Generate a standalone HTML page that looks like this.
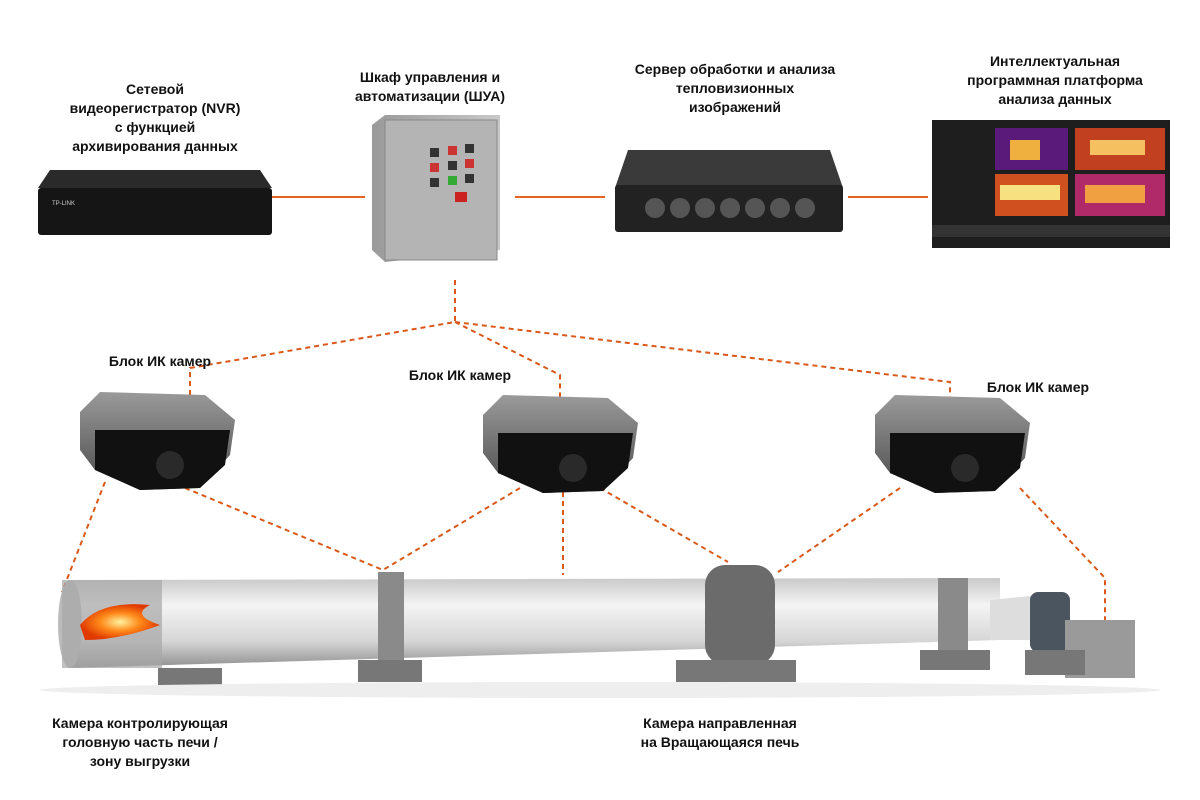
<!DOCTYPE html>
<html><head><meta charset="utf-8"><style>
html,body{margin:0;padding:0;background:#fff;}
body{width:1200px;height:800px;overflow:hidden;position:relative;font-family:"Liberation Sans","Noto Sans CJK SC",sans-serif;}
.t{position:absolute;text-align:center;font-size:14px;line-height:19px;color:#111;font-weight:bold;}
</style></head><body>
<svg width="1200" height="800" style="position:absolute;left:0;top:0">
<defs>
<linearGradient id="cyl" x1="0" y1="0" x2="0" y2="1">
<stop offset="0" stop-color="#c9c9c9"/><stop offset="0.3" stop-color="#f4f4f4"/><stop offset="0.7" stop-color="#d6d6d6"/><stop offset="1" stop-color="#8e8e8e"/></linearGradient>
<linearGradient id="cab" x1="0" y1="0" x2="1" y2="0">
<stop offset="0" stop-color="#9a9a9a"/><stop offset="1" stop-color="#c8c8c8"/></linearGradient>
<linearGradient id="cam" x1="0" y1="0" x2="0" y2="1">
<stop offset="0" stop-color="#9a9a9a"/><stop offset="1" stop-color="#4a4a4a"/></linearGradient>
<radialGradient id="fire"><stop offset="0" stop-color="#fff2a0"/><stop offset="0.5" stop-color="#ff8a1a"/><stop offset="1" stop-color="#e03a00"/></radialGradient>
</defs>
<!-- solid connectors -->
<g stroke="#e0631f" stroke-width="2">
<line x1="272" y1="197" x2="365" y2="197"/>
<line x1="515" y1="197" x2="605" y2="197"/>
<line x1="848" y1="197" x2="928" y2="197"/>
</g>
<!-- dashed connectors -->
<g stroke="#d9581a" stroke-width="2" stroke-dasharray="5,4" fill="none">
<polyline points="455,280 455,322 190,368 190,395"/>
<polyline points="455,322 560,375 560,400"/>
<polyline points="455,322 950,382 950,400"/>
<line x1="105" y1="482" x2="62" y2="592"/>
<line x1="185" y1="488" x2="383" y2="570"/>
<line x1="520" y1="488" x2="383" y2="570"/>
<line x1="563" y1="492" x2="563" y2="575"/>
<line x1="600" y1="488" x2="728" y2="562"/>
<line x1="900" y1="488" x2="778" y2="572"/>
<polyline points="1020,488 1105,578 1105,620"/>
</g>
<!-- NVR -->
<polygon points="50,170 260,170 272,188 38,188" fill="#2a2a2a"/>
<rect x="38" y="188" width="234" height="47" rx="3" fill="#151515"/>
<text x="52" y="205" font-size="6" fill="#ccc" font-family="Liberation Sans">TP-LINK</text>
<!-- cabinet -->
<polygon points="372,125 385,115 500,115 500,250 385,262 372,250" fill="url(#cab)"/>
<rect x="385" y="120" width="112" height="140" fill="#b4b4b4" stroke="#888"/>
<g fill="#333"><rect x="430" y="148" width="9" height="9"/><rect x="448" y="146" width="9" height="9" fill="#c33"/><rect x="465" y="144" width="9" height="9"/><rect x="430" y="163" width="9" height="9" fill="#c33"/><rect x="448" y="161" width="9" height="9"/><rect x="465" y="159" width="9" height="9" fill="#c33"/><rect x="430" y="178" width="9" height="9"/><rect x="448" y="176" width="9" height="9" fill="#3a3"/><rect x="465" y="174" width="9" height="9"/><rect x="455" y="192" width="12" height="10" fill="#c22"/></g>
<!-- server -->
<polygon points="628,150 830,150 843,188 615,188" fill="#3a3a3a"/>
<rect x="615" y="185" width="228" height="47" rx="3" fill="#222"/>
<g fill="#555"><circle cx="655" cy="208" r="10"/><circle cx="680" cy="208" r="10"/><circle cx="705" cy="208" r="10"/><circle cx="730" cy="208" r="10"/><circle cx="755" cy="208" r="10"/><circle cx="780" cy="208" r="10"/><circle cx="805" cy="208" r="10"/></g>
<!-- screen -->
<rect x="932" y="120" width="238" height="128" fill="#1e1e1e"/>
<rect x="995" y="128" width="73" height="42" fill="#5a1a7a"/><rect x="1075" y="128" width="90" height="42" fill="#c04020"/>
<rect x="995" y="174" width="73" height="42" fill="#d05020"/><rect x="1075" y="174" width="90" height="42" fill="#b02a6a"/>
<rect x="1010" y="140" width="30" height="20" fill="#f0b040"/><rect x="1090" y="140" width="55" height="15" fill="#f5c060"/><rect x="1000" y="185" width="60" height="15" fill="#f6e080"/><rect x="1085" y="185" width="60" height="18" fill="#f0a040"/>
<rect x="932" y="225" width="238" height="12" fill="#333"/>
<!-- cameras -->
<g id="c">
<polygon points="80,412 100,392 205,395 235,420 230,455 200,488 140,490 95,470 80,450" fill="url(#cam)"/>
<polygon points="95,430 230,430 225,465 200,488 140,490 95,470" fill="#111"/>
<circle cx="170" cy="465" r="14" fill="#2a2a2a"/>
</g>
<use href="#c" transform="translate(403,3)"/>
<use href="#c" transform="translate(795,3)"/>
<!-- kiln -->
<polygon points="70,580 1000,578 1000,640 70,668" fill="url(#cyl)"/>
<ellipse cx="70" cy="624" rx="12" ry="44" fill="#bbb"/>
<rect x="62" y="580" width="100" height="88" fill="#a6a6a6" opacity="0.7"/>
<path d="M80,625 Q100,600 150,605 Q130,615 160,625 Q120,640 85,640 Z" fill="url(#fire)"/>
<rect x="378" y="572" width="26" height="92" fill="#8a8a8a"/>
<rect x="705" y="565" width="70" height="100" rx="20" fill="#6b6b6b"/>
<rect x="938" y="578" width="30" height="75" fill="#8a8a8a"/>
<polygon points="990,600 1040,595 1040,640 990,640" fill="#ddd"/>
<rect x="1030" y="592" width="40" height="60" rx="8" fill="#4a5560"/>
<rect x="1065" y="620" width="70" height="58" fill="#9a9a9a"/>
<g fill="#777"><rect x="158" y="668" width="64" height="18"/><rect x="358" y="660" width="64" height="22"/><rect x="676" y="660" width="120" height="22"/><rect x="920" y="650" width="70" height="20"/><rect x="1025" y="650" width="60" height="25"/></g>
<ellipse cx="600" cy="690" rx="560" ry="8" fill="#eee"/>
</svg>
<div class="t" style="left:40px;top:80px;width:230px">Сетевой<br>видеорегистратор (NVR)<br>с функцией<br>архивирования данных</div>
<div class="t" style="left:330px;top:68px;width:200px">Шкаф управления и<br>автоматизации (ШУА)</div>
<div class="t" style="left:610px;top:60px;width:250px">Сервер обработки и анализа<br>тепловизионных<br>изображений</div>
<div class="t" style="left:940px;top:52px;width:230px">Интеллектуальная<br>программная платформа<br>анализа данных</div>
<div class="t" style="left:80px;top:352px;width:160px">Блок ИК камер</div>
<div class="t" style="left:380px;top:366px;width:160px">Блок ИК камер</div>
<div class="t" style="left:958px;top:378px;width:160px">Блок ИК камер</div>
<div class="t" style="left:20px;top:714px;width:240px">Камера контролирующая<br>головную часть печи /<br>зону выгрузки</div>
<div class="t" style="left:610px;top:714px;width:220px">Камера направленная<br>на Вращающаяся печь</div>
</body></html>
